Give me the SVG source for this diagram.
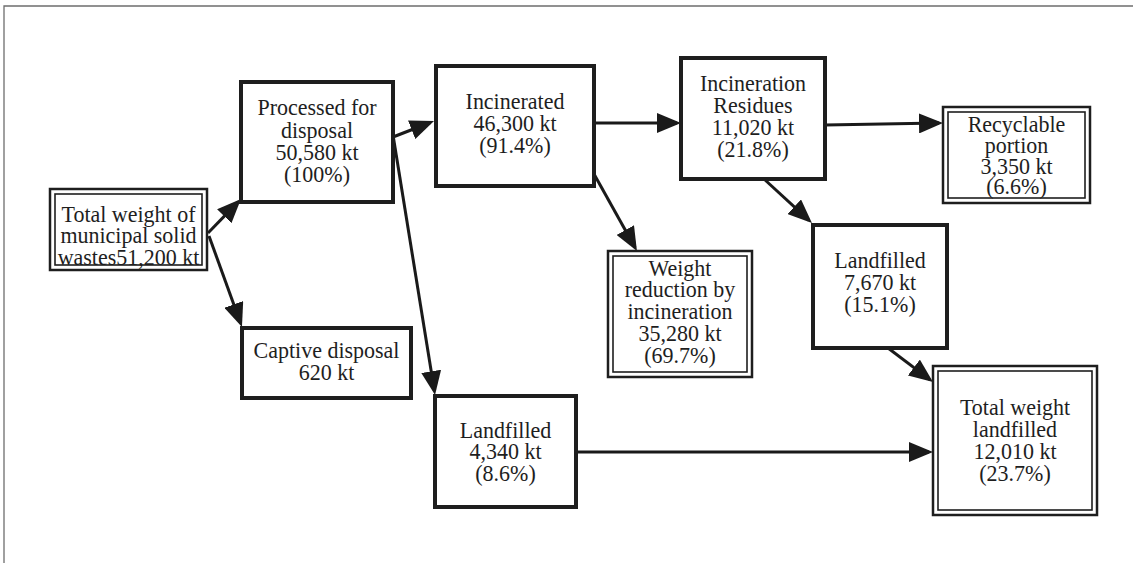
<svg xmlns="http://www.w3.org/2000/svg" width="1133" height="563" viewBox="0 0 1133 563">
<defs>
<style>
.frame{fill:none;stroke:#6e6e6e;stroke-width:1.3}
.box{fill:#fff;stroke:#1e1e1e;stroke-width:4}
.dbo{fill:#fff;stroke:#1e1e1e;stroke-width:2.5}
.dbi{fill:none;stroke:#1e1e1e;stroke-width:1.6}
.t{font-family:"Liberation Serif","Times New Roman",serif;font-size:22px;fill:#1e1e1e;text-anchor:middle;transform-box:fill-box;transform-origin:center;transform:scale(1,1.07)}
.c{fill:none;stroke:#1a1a1a;stroke-width:3;marker-end:url(#ah)}
</style>
<marker id="ah" viewBox="0 0 24 20" refX="20" refY="10" markerWidth="24" markerHeight="20" orient="auto" markerUnits="userSpaceOnUse">
<path d="M0,0 L24,10 L0,20 z" fill="#1a1a1a"/>
</marker>
</defs>
<rect width="1133" height="563" fill="#fff"/>
<path class="frame" d="M4,563 V6 H1133"/>

<g id="connectors">
<line class="c" x1="208" y1="233" x2="238.2" y2="201.9"/>
<line class="c" x1="209" y1="236" x2="240.6" y2="323.2"/>
<line class="c" x1="393" y1="137" x2="430.3" y2="122.5"/>
<line class="c" x1="393" y1="135" x2="434.4" y2="391.1"/>
<line class="c" x1="594" y1="123" x2="677" y2="123"/>
<line class="c" x1="594" y1="174" x2="635" y2="247.5"/>
<line class="c" x1="825" y1="125" x2="939" y2="123.1"/>
<line class="c" x1="764" y1="179" x2="809" y2="220.3"/>
<line class="c" x1="888" y1="348" x2="929.8" y2="379.6"/>
<line class="c" x1="576" y1="452" x2="929" y2="452"/>
</g>

<g id="total-msw">
<rect class="dbo" x="50" y="189" width="157" height="81"/>
<rect class="dbi" x="55" y="194" width="147" height="71"/>
<text class="t" x="128.5" y="222">Total weight of</text>
<text class="t" x="128.5" y="243">municipal solid</text>
<text class="t" x="128.5" y="264">wastes51,200 kt</text>
</g>

<g id="processed">
<rect class="box" x="241" y="82" width="152" height="120"/>
<text class="t" x="317" y="115">Processed for</text>
<text class="t" x="317" y="137">disposal</text>
<text class="t" x="317" y="159">50,580 kt</text>
<text class="t" x="317" y="181">(100%)</text>
</g>

<g id="captive">
<rect class="box" x="242" y="328" width="169" height="70"/>
<text class="t" x="326.5" y="357">Captive disposal</text>
<text class="t" x="326.5" y="379">620 kt</text>
</g>

<g id="incinerated">
<rect class="box" x="436" y="66" width="158" height="120"/>
<text class="t" x="515" y="108">Incinerated</text>
<text class="t" x="515" y="130">46,300 kt</text>
<text class="t" x="515" y="152">(91.4%)</text>
</g>

<g id="landfilled-direct">
<rect class="box" x="435" y="396" width="141" height="111"/>
<text class="t" x="505.5" y="437">Landfilled</text>
<text class="t" x="505.5" y="459">4,340 kt</text>
<text class="t" x="505.5" y="481">(8.6%)</text>
</g>

<g id="weight-reduction">
<rect class="dbo" x="608" y="251" width="144" height="126"/>
<rect class="dbi" x="613" y="256" width="134" height="116"/>
<text class="t" x="680" y="275">Weight</text>
<text class="t" x="680" y="297">reduction by</text>
<text class="t" x="680" y="319">incineration</text>
<text class="t" x="680" y="341">35,280 kt</text>
<text class="t" x="680" y="363">(69.7%)</text>
</g>

<g id="residues">
<rect class="box" x="681" y="58" width="144" height="121"/>
<text class="t" x="753" y="90">Incineration</text>
<text class="t" x="753" y="112">Residues</text>
<text class="t" x="753" y="134">11,020 kt</text>
<text class="t" x="753" y="156">(21.8%)</text>
</g>

<g id="recyclable">
<rect class="dbo" x="943" y="107" width="147" height="96"/>
<rect class="dbi" x="948" y="112" width="137" height="86"/>
<text class="t" x="1016.5" y="131">Recyclable</text>
<text class="t" x="1016.5" y="152">portion</text>
<text class="t" x="1016.5" y="173">3,350 kt</text>
<text class="t" x="1016.5" y="194">(6.6%)</text>
</g>

<g id="landfilled-residues">
<rect class="box" x="813" y="225" width="134" height="123"/>
<text class="t" x="880" y="268">Landfilled</text>
<text class="t" x="880" y="290">7,670 kt</text>
<text class="t" x="880" y="312">(15.1%)</text>
</g>

<g id="total-landfilled">
<rect class="dbo" x="933" y="366" width="164" height="149"/>
<rect class="dbi" x="938" y="371" width="154" height="139"/>
<text class="t" x="1015" y="414">Total weight</text>
<text class="t" x="1015" y="436">landfilled</text>
<text class="t" x="1015" y="458">12,010 kt</text>
<text class="t" x="1015" y="480">(23.7%)</text>
</g>
</svg>
